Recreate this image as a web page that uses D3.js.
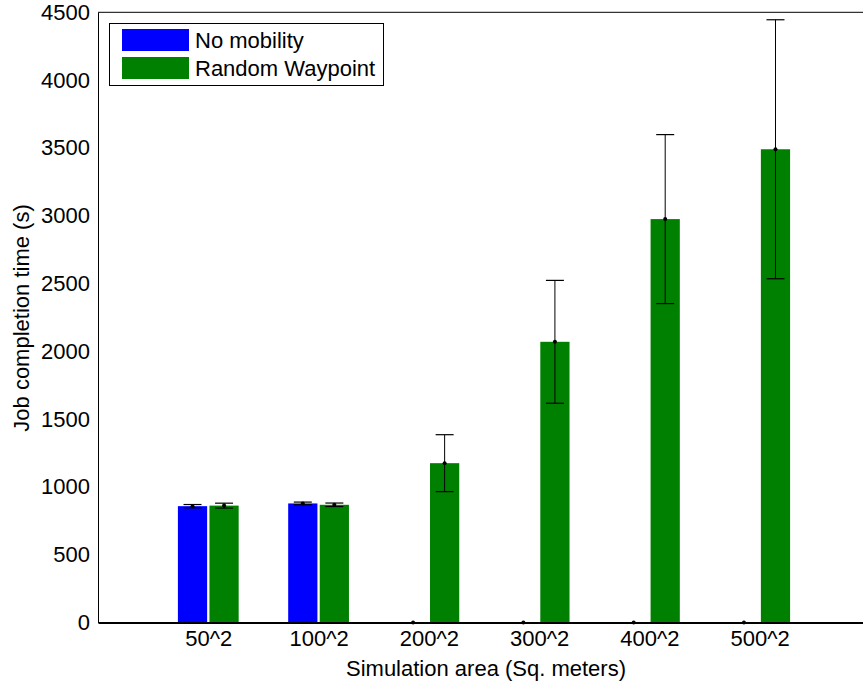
<!DOCTYPE html>
<html>
<head>
<meta charset="utf-8">
<script src="https://cdn.jsdelivr.net/npm/d3@7"></script>
<style>
  html, body { margin: 0; padding: 0; background: #fff; }
  svg { display: block; font-family: "Liberation Sans", Arial, sans-serif; }
</style>
</head>
<body>
<svg id="chart" width="863" height="685"></svg>
<script>
// Simulation areas and job completion times (mean ± error)
const categories = ["50^2", "100^2", "200^2", "300^2", "400^2", "500^2"];
const seriesNames = ["No mobility", "Random Waypoint"];
const noMobility = [858, 878, 0, 0, 0, 0];
const noMobilityErr = [12, 10, 0, 0, 0, 0];
const randomWaypoint = [862, 868, 1175, 2070, 2975, 3490];
const randomWaypointErr = [18, 13, 210, 453, 623, 955];
const yTicks = [0, 500, 1000, 1500, 2000, 2500, 3000, 3500, 4000, 4500];
const colors = ["#0000ff", "#008000"];

const series = [
  { name: seriesNames[0], values: noMobility, errs: noMobilityErr, color: colors[0], offset: -0.143 },
  { name: seriesNames[1], values: randomWaypoint, errs: randomWaypointErr, color: colors[1], offset: 0.143 }
];

const svg = d3.select("#chart");
const barW = 0.265; // bar width in category units
const fontSize = 22;

// Category positions are 1..6 on a 0..7 axis
const x = d3.scaleLinear().domain([0, 7]).range([98, 870]);
const y = d3.scaleLinear().domain([0, 4500]).range([622.5, 12.3]);

// Bars
series.forEach(s => {
  svg.append("g").selectAll("rect")
    .data(s.values)
    .join("rect")
    .attr("x", (d, i) => x(i + 1 + s.offset - barW / 2))
    .attr("width", x(barW) - x(0))
    .attr("y", d => y(d))
    .attr("height", d => y(0) - y(d))
    .attr("fill", s.color);
});

// Error bars with caps and mean markers
series.forEach(s => {
  const g = svg.append("g");
  const cap = 9;
  s.values.forEach((v, i) => {
    const cx = x(i + 1 + s.offset);
    const e = s.errs[i];
    if (e > 0) {
      g.append("line").attr("x1", cx).attr("x2", cx)
        .attr("y1", y(v + e)).attr("y2", y(v - e))
        .attr("stroke", "#000").attr("stroke-width", 1);
      [v + e, v - e].forEach(t => {
        g.append("line").attr("x1", cx - cap).attr("x2", cx + cap)
          .attr("y1", y(t)).attr("y2", y(t))
          .attr("stroke", "#000").attr("stroke-width", 1.2);
      });
    }
    g.append("circle").attr("cx", cx).attr("cy", y(v)).attr("r", 2).attr("fill", "#000");
  });
});

// Axis frame
const xAxis = d3.axisBottom(x)
  .tickValues(d3.range(1, 7))
  .tickFormat(d => categories[d - 1])
  .tickSize(0).tickPadding(8);
const gx = svg.append("g").attr("transform", `translate(0,${y(0)})`).call(xAxis);
gx.select(".domain").attr("stroke", "#000").attr("stroke-width", 2);
gx.selectAll("text").attr("font-size", fontSize).attr("fill", "#000")
  .attr("font-family", "Liberation Sans, Arial, sans-serif");

const yAxis = d3.axisLeft(y).tickValues(yTicks).tickFormat(d3.format("d"))
  .tickSize(0).tickPadding(8);
const gy = svg.append("g").attr("transform", `translate(${x(0)},0)`).call(yAxis);
gy.select(".domain").attr("stroke", "#000").attr("stroke-width", 1);
gy.selectAll("text").attr("font-size", fontSize).attr("fill", "#000")
  .attr("font-family", "Liberation Sans, Arial, sans-serif");

// Top border of the axes box
svg.append("line").attr("x1", x(0)).attr("x2", x(7))
  .attr("y1", y(4500)).attr("y2", y(4500))
  .attr("stroke", "#000").attr("stroke-width", 1);

// Axis titles
svg.append("text")
  .attr("x", 486).attr("y", 676)
  .attr("text-anchor", "middle").attr("font-size", fontSize)
  .text("Simulation area (Sq. meters)");
svg.append("text")
  .attr("transform", "translate(29,318) rotate(-90)")
  .attr("text-anchor", "middle").attr("font-size", fontSize)
  .text("Job completion time (s)");

// Legend
const lg = svg.append("g");
lg.append("rect").attr("x", 109.5).attr("y", 23.5).attr("width", 274).attr("height", 62)
  .attr("fill", "#fff").attr("stroke", "#000").attr("stroke-width", 1);
series.forEach((s, i) => {
  lg.append("rect").attr("x", 122).attr("y", 29 + i * 28).attr("width", 67).attr("height", 22)
    .attr("fill", s.color);
  lg.append("text").attr("x", 195).attr("y", 48 + i * 28).attr("font-size", fontSize)
    .text(s.name);
});
</script>
</body>
</html>
